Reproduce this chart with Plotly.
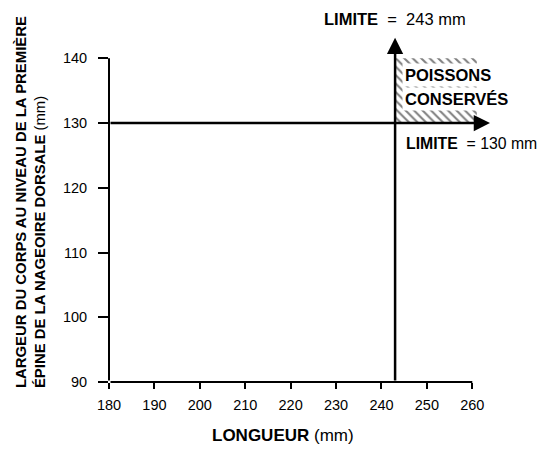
import plotly.graph_objects as go

# Axis ticks
x_ticks = [180, 190, 200, 210, 220, 230, 240, 250, 260]
y_ticks = [90, 100, 110, 120, 130, 140]

# Limits
limit_length = 243   # mm
limit_width = 130    # mm

# Extents of arrows and retained-fish zone
arrow_top = 143.2
arrow_right = 263.9
zone_x = [243, 261, 261, 243, 243]
zone_y = [130, 130, 140, 140, 130]

FONT = "Arial, Liberation Sans, Helvetica, sans-serif"

fig = go.Figure()

# Hatched zone "poissons conservés"
fig.add_trace(go.Scatter(
    x=zone_x, y=zone_y, mode="lines", fill="toself",
    line=dict(width=0, color="rgba(0,0,0,0)"),
    fillcolor="white",
    fillpattern=dict(shape="\\", fgcolor="black", bgcolor="white", size=6, solidity=0.35),
    hoverinfo="skip", showlegend=False,
))

anns = []

def line_ann(x0, y0, x1, y1, head=0, width=2, size=1.0):
    anns.append(dict(
        x=x1, y=y1, ax=x0, ay=y0, xref="x", yref="y", axref="x", ayref="y",
        text="", showarrow=True, arrowhead=head, arrowwidth=width,
        arrowsize=size, arrowcolor="black", standoff=0, startstandoff=0,
    ))

# axis lines (only across tick range)
line_ann(x_ticks[0], y_ticks[0], x_ticks[-1], y_ticks[0], width=2)
line_ann(x_ticks[0], y_ticks[0], x_ticks[0], y_ticks[-1], width=2)

# limit lines with arrows
line_ann(limit_length, y_ticks[0], limit_length, arrow_top, head=2, width=2.5, size=1.3)
line_ann(x_ticks[0], limit_width, arrow_right, limit_width, head=2, width=2.5, size=1.3)

# text labels
anns.append(dict(x=limit_length, y=1.021, xref="x", yref="paper", xanchor="center", yanchor="middle",
                 text="<b>LIMITE</b>  =  243 mm", showarrow=False, font=dict(size=16.5, color="black", family=FONT)))
anns.append(dict(x=244.9, y=126.9, xref="x", yref="y", xanchor="left", yanchor="middle",
                 text="<b>LIMITE</b>  = 130 mm", showarrow=False, font=dict(size=15.8, color="black", family=FONT)))
anns.append(dict(x=244.6, y=137.4, xref="x", yref="y", xanchor="left", yanchor="middle",
                 text="<b>POISSONS</b>", showarrow=False, bgcolor="white", borderpad=2,
                 font=dict(size=16.5, color="black", family=FONT)))
anns.append(dict(x=244.6, y=133.7, xref="x", yref="y", xanchor="left", yanchor="middle",
                 text="<b>CONSERVÉS</b>", showarrow=False, bgcolor="white", borderpad=2,
                 font=dict(size=16.5, color="black", family=FONT)))

# axis titles
anns.append(dict(x=218.4, y=-0.149, xref="x", yref="paper", xanchor="center", yanchor="middle",
                 text="<b>LONGUEUR</b> (mm)", showarrow=False, font=dict(size=17, color="black", family=FONT)))
anns.append(dict(x=-0.205, y=0.505, xref="paper", yref="paper", xanchor="center", yanchor="middle",
                 textangle=-90, align="left",
                 text="<b>LARGEUR DU CORPS AU NIVEAU DE LA PREMIÈRE</b><br><b>ÉPINE DE LA NAGEOIRE DORSALE</b> (mm)",
                 showarrow=False, font=dict(size=14.9, color="black", family=FONT)))

fig.update_layout(
    width=550, height=453,
    margin=dict(l=101, r=63, t=18, b=79, autoexpand=False),
    plot_bgcolor="white", paper_bgcolor="white",
    font=dict(family=FONT, size=14, color="black"),
    showlegend=False,
    annotations=anns,
    xaxis=dict(range=[180, 265], tickvals=x_ticks, ticks="outside", ticklen=6, tickwidth=2,
               tickcolor="black", showline=False, showgrid=False, zeroline=False,
               ticklabelstandoff=4,
               tickfont=dict(size=14.5, color="black", family=FONT), fixedrange=True),
    yaxis=dict(range=[90, 145], tickvals=y_ticks, ticks="outside", ticklen=10, tickwidth=2,
               tickcolor="black", showline=False, showgrid=False, zeroline=False,
               ticklabelstandoff=8,
               tickfont=dict(size=14.5, color="black", family=FONT), fixedrange=True),
)

fig.write_html("out.html")
